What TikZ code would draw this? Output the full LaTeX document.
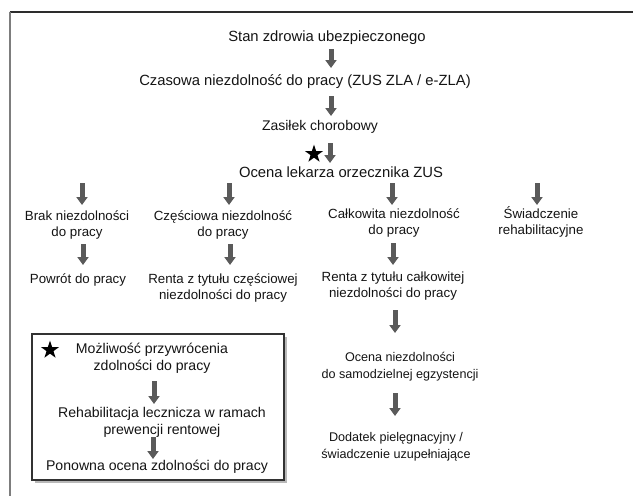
\documentclass[tikz,border=0pt]{standalone}
\usepackage{fontspec}
\setmainfont{Liberation Sans}
\usetikzlibrary{arrows.meta,shapes.geometric,shadows}
\definecolor{arrgray}{RGB}{90,90,90}
\definecolor{framedark}{RGB}{45,45,45}
\definecolor{framegray}{RGB}{125,125,125}
\definecolor{boxline}{RGB}{50,50,50}
\begin{document}
\begin{tikzpicture}[x=1pt,y=-1pt,
  txt/.style={inner sep=0pt, align=center, text=black!92},
  big/.style={txt, font=\fontsize{14.8}{16.5}\selectfont},
  mid/.style={txt, font=\fontsize{13.3}{16.2}\selectfont},
  sml/.style={txt, font=\fontsize{12.6}{16.8}\selectfont},
  inbox/.style={txt, font=\fontsize{14.1}{16.8}\selectfont},
  blk/.style={line width=5pt, arrgray, -{Triangle[width=11pt,length=8pt]}},
  starmark/.style={star, star points=5, star point ratio=2.6, fill=black, draw=none, inner sep=0pt, minimum size=19pt},
  panel/.style={draw=boxline, line width=2pt, fill=white, inner sep=0pt,
    drop shadow={shadow xshift=2.5pt, shadow yshift=-2.5pt, fill=gray!55, opacity=1}},
]
\useasboundingbox (0,0) rectangle (633,496);
% frame
\draw[framedark, line width=1.5pt] (9.5,12) -- (633,12);
\draw[framegray, line width=2pt] (9.5,12) -- (9.5,496);

% inset box
\node[panel, minimum width=252pt, minimum height=146pt] (box) at (158,407) {};

% main column
\node[big] (stan) at (327,38) {Stan zdrowia ubezpieczonego};
\node[big] (czas) at (305,82) {Czasowa niezdolność do pracy (ZUS ZLA / e-ZLA)};
\node[txt, font=\fontsize{14}{16}\selectfont] (zas) at (320,127) {Zasiłek chorobowy};
\node[big] (ocena) at (341,172) {Ocena lekarza orzecznika ZUS};
\node[starmark] (star1) at (314,154) {};

% branches
\node[mid] (brak) at (77,225) {Brak niezdolności\\do pracy};
\node[mid] (czes) at (223,225) {Częściowa niezdolność\\do pracy};
\node[mid] (calk) at (394,223) {Całkowita niezdolność\\do pracy};
\node[mid] (swiad) at (541,222) {Świadczenie\\rehabilitacyjne};

\node[mid] (powrot) at (78,280) {Powrót do pracy};
\node[mid] (rczes) at (223,288) {Renta z tytułu częściowej\\niezdolności do pracy};
\node[mid] (rcalk) at (393,286) {Renta z tytułu całkowitej\\niezdolności do pracy};
\node[sml] (ocn) at (400,367) {Ocena niezdolności\\do samodzielnej egzystencji};
\node[sml] (dod) at (396,447) {Dodatek pielęgnacyjny /\\świadczenie uzupełniające};

% box contents
\node[starmark] (star2) at (50,350) {};
\node[inbox] (moz) at (152,358) {Możliwość przywrócenia\\zdolności do pracy};
\node[inbox] (reh) at (162,422) {Rehabilitacja lecznicza w ramach\\prewencji rentowej};
\node[inbox] (pon) at (157,467) {Ponowna ocena zdolności do pracy};

% arrow end points
\coordinate (a1t) at (331,49);  \coordinate (a1b) at (331,68);
\coordinate (a2t) at (331,96);  \coordinate (a2b) at (331,116);
\coordinate (a3t) at (330,143); \coordinate (a3b) at (330,163);
\coordinate (b1t) at (82,183);  \coordinate (b1b) at (82,205);
\coordinate (b2t) at (229,183); \coordinate (b2b) at (229,205);
\coordinate (b3t) at (392,183); \coordinate (b3b) at (392,205);
\coordinate (b4t) at (537,183); \coordinate (b4b) at (537,205);
\coordinate (c1t) at (83,244);  \coordinate (c1b) at (83,265);
\coordinate (c2t) at (230,244); \coordinate (c2b) at (230,265);
\coordinate (c3t) at (393,243); \coordinate (c3b) at (393,265);
\coordinate (d1t) at (395,310); \coordinate (d1b) at (395,333);
\coordinate (d2t) at (395,393); \coordinate (d2b) at (395,416);
\coordinate (e1t) at (154,381); \coordinate (e1b) at (154,404);
\coordinate (e2t) at (153,437); \coordinate (e2b) at (153,459);

\foreach \a in {a1,a2,a3,b1,b2,b3,b4,c1,c2,c3,d1,d2,e1,e2}
  \draw[blk] (\a t) -- (\a b);
\end{tikzpicture}
\end{document}
